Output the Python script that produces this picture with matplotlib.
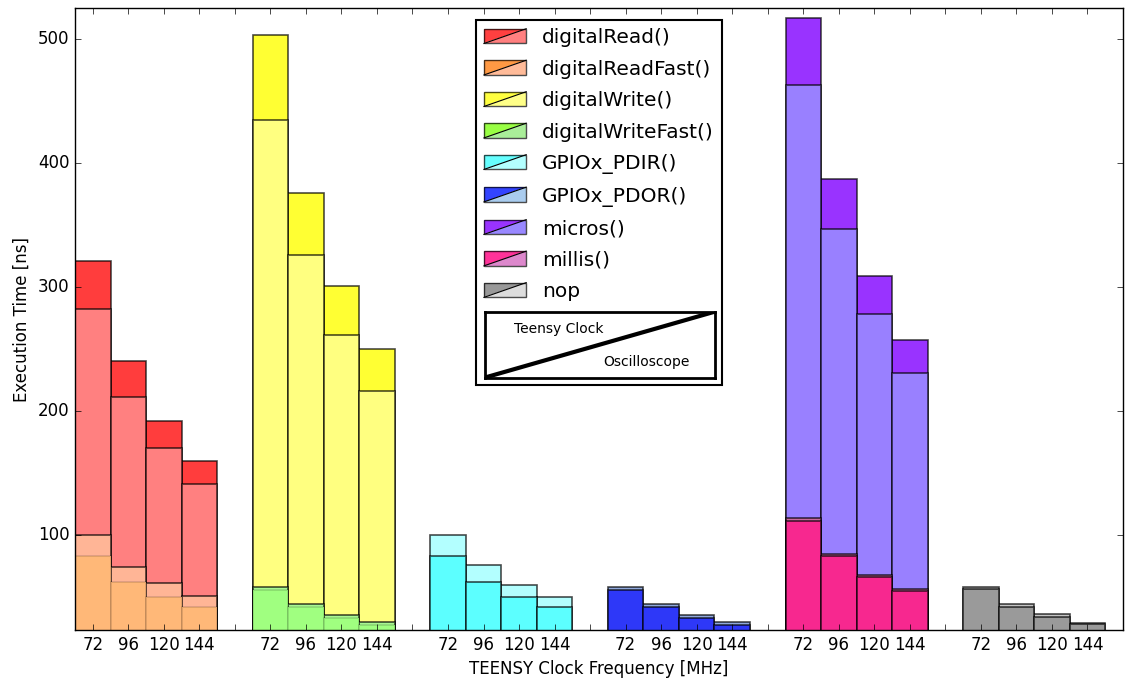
import matplotlib
matplotlib.use('Agg')
import matplotlib.pyplot as plt
import numpy as np
from matplotlib.legend_handler import HandlerBase
from matplotlib.patches import Polygon, Rectangle
from matplotlib.lines import Line2D

plt.style.use('classic')

# data: execution time [ns] at 72/96/120/144 MHz
freqs = ['72', '96', '120', '144']
functions = ['digitalRead()', 'digitalReadFast()', 'digitalWrite()', 'digitalWriteFast()',
             'GPIOx_PDIR()', 'GPIOx_PDOR()', 'micros()', 'millis()', 'nop']
group_of = [0, 0, 1, 1, 2, 3, 4, 4, 5]

teensy_clock = [
    [321, 240, 192, 160],      # digitalRead
    [83.3, 62.5, 50.0, 41.7],  # digitalReadFast
    [503, 376, 301, 250],      # digitalWrite
    [55.6, 41.7, 33.3, 27.8],  # digitalWriteFast
    [83.3, 62.5, 50.0, 41.7],  # GPIOx_PDIR
    [55.6, 41.7, 33.3, 27.8],  # GPIOx_PDOR
    [517, 387, 309, 257],      # micros
    [111, 83, 66, 54.5],       # millis
    [56.5, 42, 34, 28],        # nop
]
oscilloscope = [
    [282, 211, 170, 141],
    [100, 74.5, 61, 50.5],
    [435, 326, 261, 216],
    [57.8, 44.6, 35.5, 29.5],
    [100, 75.8, 60, 50.3],
    [57.8, 44.6, 35.7, 29.8],
    [463, 347, 278, 231],
    [114, 85, 68, 56.5],
    [58.3, 44.4, 36, 29.3],
]

# colours as they appear in the bars
bar_dark = ['#ff3d3d', '#ffb878', '#ffff33', '#a0ff80', '#5cffff', '#2e38f8', '#9933ff', '#f7288f', '#9a9a9a']
bar_light = ['#ff8080', '#ffb596', '#ffff80', '#a8f890', '#b3ffff', '#90a8dc', '#9980ff', '#c8689e', '#c4c4c4']
# colours in the legend
leg_dark = ['#ff4040', '#ff9944', '#ffff40', '#99ff44', '#66ffff', '#3344ff', '#9933ff', '#ff3399', '#999999']
leg_light = ['#ff8080', '#ffbb99', '#ffff88', '#aaee99', '#b3ffff', '#aaccee', '#9988ff', '#dd88cc', '#dddddd']

edge = (0, 0, 0, 0.7)
faint = (0, 0, 0, 0.15)

fig = plt.figure(figsize=(11.28, 6.81), dpi=100, facecolor='white')
ax = fig.add_axes([75 / 1128, 1 - 630 / 681, 1048 / 1128, 622 / 681])

for i in range(len(functions)):
    x = group_of[i] * 5 + np.arange(4)
    t = np.array(teensy_clock[i])
    o = np.array(oscilloscope[i])
    t_first = t >= o
    # taller bar first, shorter one drawn on top
    hi = np.where(t_first, t, o)
    lo = np.where(t_first, o, t)
    hi_col = [bar_dark[i] if f else bar_light[i] for f in t_first]
    lo_col = [bar_light[i] if f else bar_dark[i] for f in t_first]
    ax.bar(x, hi, width=1, align='center', color=hi_col, edgecolor=edge, linewidth=1.2)
    # the *Fast() teensy lines show only faintly through the scope bar
    lo_edge = faint if functions[i].endswith('Fast()') else edge
    ax.bar(x, lo, width=1, align='center', color=lo_col, edgecolor=lo_edge, linewidth=1.2)

ax.set_xticks(np.arange(30))
ax.set_xticklabels((freqs + ['']) * 6)
ax.set_xlim(-0.5, 29)
ax.set_ylim(23.4, 525)
ax.set_yticks([100, 200, 300, 400, 500])
ax.set_xlabel('TEENSY Clock Frequency [MHz]')
ax.set_ylabel('Execution Time [ns]')


class SplitPatch:
    def __init__(self, dark, light):
        self.dark = dark
        self.light = light


class Blank:
    pass


class SplitHandler(HandlerBase):
    def create_artists(self, legend, h, xd, yd, w, hgt, fs, trans):
        x0, y0 = -xd, -yd
        upper = Polygon([[x0, y0], [x0, y0 + hgt], [x0 + w, y0 + hgt]], closed=True,
                        facecolor=h.dark, edgecolor='none', transform=trans)
        lower = Polygon([[x0, y0], [x0 + w, y0], [x0 + w, y0 + hgt]], closed=True,
                        facecolor=h.light, edgecolor='none', transform=trans)
        frame = Rectangle((x0, y0), w, hgt, facecolor='none', edgecolor=edge, lw=1, transform=trans)
        diag = Line2D([x0, x0 + w], [y0, y0 + hgt], color='k', lw=0.8, transform=trans)
        return [upper, lower, frame, diag]


class BlankHandler(HandlerBase):
    def create_artists(self, legend, h, xd, yd, w, hgt, fs, trans):
        return [Rectangle((-xd, -yd), w, hgt, facecolor='none', edgecolor='none', transform=trans)]


handles = [SplitPatch(d, l) for d, l in zip(leg_dark, leg_light)] + [Blank()]
labels = functions + ['\n\n']
leg = ax.legend(handles, labels, handler_map={SplitPatch: SplitHandler(), Blank: BlankHandler()},
                loc='upper center', fontsize=14.5, handlelength=2.1, handleheight=0.75,
                labelspacing=0.62, borderaxespad=0.6, fancybox=False, borderpad=0.4,
                handletextpad=0.8)
leg.get_frame().set_linewidth(1.5)

# key box: Teensy Clock / Oscilloscope
fig.canvas.draw()
bb = leg.get_frame().get_window_extent()
W, H = fig.bbox.width, fig.bbox.height
kx0, kx1 = bb.x0 + 9, bb.x1 - 7
ky0 = bb.y0 + 7
kax = fig.add_axes([kx0 / W, ky0 / H, (kx1 - kx0) / W, 66 / H])
kax.set_xlim(0, 1)
kax.set_ylim(0, 1)
kax.set_xticks([])
kax.set_yticks([])
for s in kax.spines.values():
    s.set_linewidth(2)
kax.plot([0, 1], [0, 1], color='k', lw=3)
kax.text(0.32, 0.74, 'Teensy Clock', ha='center', va='center', fontsize=10)
kax.text(0.70, 0.24, 'Oscilloscope', ha='center', va='center', fontsize=10)

fig.savefig('out.png', dpi=100, facecolor='white')
